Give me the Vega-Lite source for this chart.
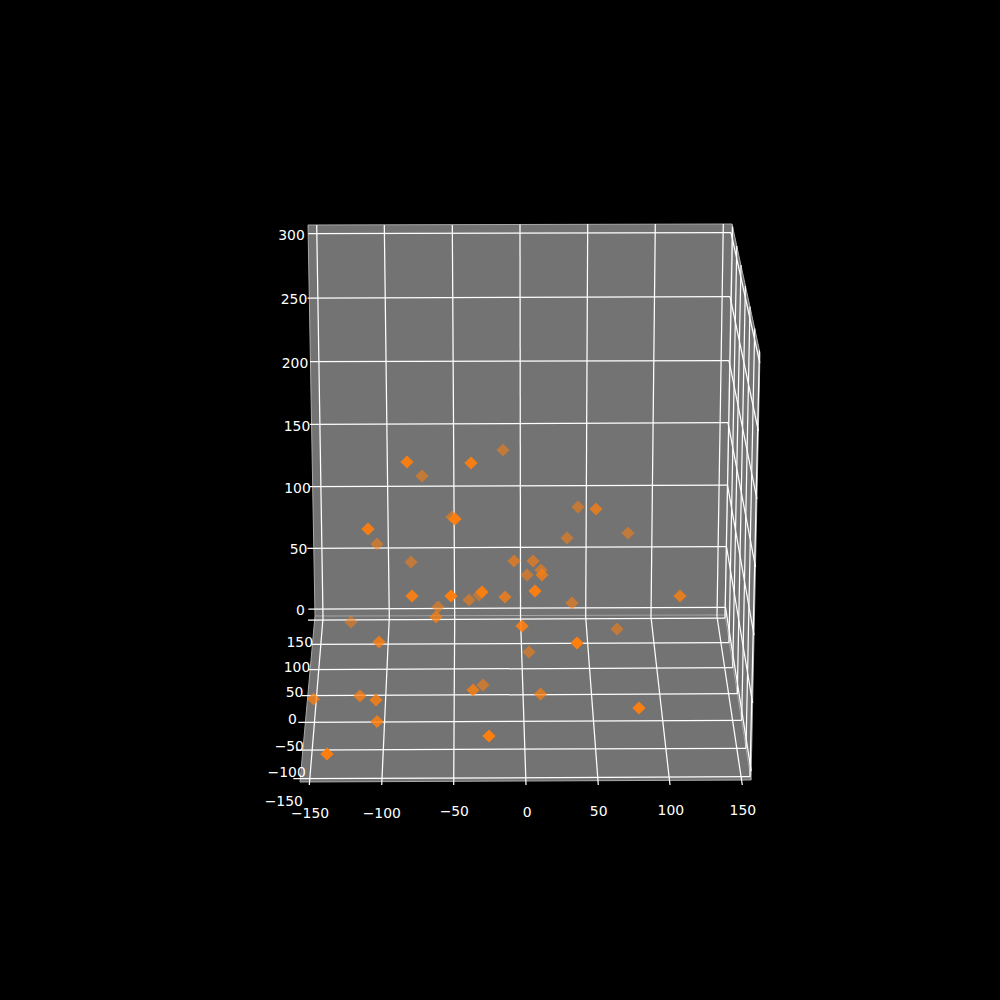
{
  "$schema": "https://vega.github.io/schema/vega-lite/v6.json",
  "width": 1000,
  "height": 1000,
  "padding": 0,
  "autosize": {"type": "none"},
  "background": "#000000",
  "config": {"view": {"stroke": null}},
  "datasets": {
    "panes": [
      {"pane": "back", "sx": 308, "top": 225, "bottom": 225},
      {"pane": "back", "sx": 315, "top": 225, "bottom": 616},
      {"pane": "back", "sx": 725, "top": 224, "bottom": 615},
      {"pane": "back", "sx": 732, "top": 224, "bottom": 224},
      {"pane": "floor", "sx": 300, "top": 782, "bottom": 782},
      {"pane": "floor", "sx": 315, "top": 616, "bottom": 781.9},
      {"pane": "floor", "sx": 725, "top": 615, "bottom": 780.2},
      {"pane": "floor", "sx": 751, "top": 780, "bottom": 780},
      {"pane": "right", "sx": 725, "top": 615, "bottom": 615},
      {"pane": "right", "sx": 732, "top": 224, "bottom": 659.4},
      {"pane": "right", "sx": 751, "top": 311.5, "bottom": 780},
      {"pane": "right", "sx": 760, "top": 353, "bottom": 353}
    ],
    "edges": [
      {"id": "e1", "sx": 308, "sy": 225}, {"id": "e1", "sx": 732, "sy": 224},
      {"id": "e2", "sx": 308, "sy": 225}, {"id": "e2", "sx": 315, "sy": 616},
      {"id": "e3", "sx": 732, "sy": 224}, {"id": "e3", "sx": 725, "sy": 615},
      {"id": "e4", "sx": 315, "sy": 616}, {"id": "e4", "sx": 725, "sy": 615},
      {"id": "e5", "sx": 315, "sy": 616}, {"id": "e5", "sx": 300, "sy": 782},
      {"id": "e6", "sx": 300, "sy": 782}, {"id": "e6", "sx": 751, "sy": 780},
      {"id": "e7", "sx": 725, "sy": 615}, {"id": "e7", "sx": 751, "sy": 780},
      {"id": "e8", "sx": 732, "sy": 224}, {"id": "e8", "sx": 760, "sy": 353},
      {"id": "e9", "sx": 760, "sy": 353}, {"id": "e9", "sx": 751, "sy": 780}
    ],
    "grid": [
      {"id": "bx-150", "sx": 316.7, "sy": 225}, {"id": "bx-150", "sx": 323, "sy": 618},
      {"id": "bx-100", "sx": 384.3, "sy": 225}, {"id": "bx-100", "sx": 389.3, "sy": 618},
      {"id": "bx-50", "sx": 452.3, "sy": 225}, {"id": "bx-50", "sx": 454.7, "sy": 618},
      {"id": "bx0", "sx": 520, "sy": 224.5}, {"id": "bx0", "sx": 520.5, "sy": 617},
      {"id": "bx50", "sx": 587.7, "sy": 224}, {"id": "bx50", "sx": 585.7, "sy": 617},
      {"id": "bx100", "sx": 655.3, "sy": 224}, {"id": "bx100", "sx": 651, "sy": 617},
      {"id": "bx150", "sx": 723.3, "sy": 224}, {"id": "bx150", "sx": 717, "sy": 616.5},
      {"id": "fx-150", "sx": 323, "sy": 618}, {"id": "fx-150", "sx": 309.3, "sy": 785},
      {"id": "fx-100", "sx": 389.3, "sy": 618}, {"id": "fx-100", "sx": 381.7, "sy": 785},
      {"id": "fx-50", "sx": 454.7, "sy": 618}, {"id": "fx-50", "sx": 453.7, "sy": 785},
      {"id": "fx0", "sx": 520.5, "sy": 617}, {"id": "fx0", "sx": 526, "sy": 785},
      {"id": "fx50", "sx": 585.7, "sy": 617}, {"id": "fx50", "sx": 598.3, "sy": 785},
      {"id": "fx100", "sx": 651, "sy": 617}, {"id": "fx100", "sx": 670, "sy": 785},
      {"id": "fx150", "sx": 717, "sy": 616.5}, {"id": "fx150", "sx": 742.3, "sy": 785},
      {"id": "bz300", "sx": 308.3, "sy": 233.5}, {"id": "bz300", "sx": 731, "sy": 232.7},
      {"id": "bz250", "sx": 307.5, "sy": 298}, {"id": "bz250", "sx": 730, "sy": 296.7},
      {"id": "bz200", "sx": 310, "sy": 361.7}, {"id": "bz200", "sx": 729, "sy": 360.7},
      {"id": "bz150", "sx": 310, "sy": 424.3}, {"id": "bz150", "sx": 728, "sy": 422.7},
      {"id": "bz100", "sx": 309.3, "sy": 486.7}, {"id": "bz100", "sx": 727.5, "sy": 485},
      {"id": "bz50", "sx": 307.3, "sy": 548.3}, {"id": "bz50", "sx": 726.5, "sy": 546.5},
      {"id": "bz0", "sx": 308.3, "sy": 609}, {"id": "bz0", "sx": 725.5, "sy": 607.3},
      {"id": "rz300", "sx": 731, "sy": 232.7}, {"id": "rz300", "sx": 759.8, "sy": 363},
      {"id": "rz250", "sx": 730, "sy": 296.7}, {"id": "rz250", "sx": 758.4, "sy": 431},
      {"id": "rz200", "sx": 729, "sy": 360.7}, {"id": "rz200", "sx": 756.9, "sy": 499},
      {"id": "rz150", "sx": 728, "sy": 422.7}, {"id": "rz150", "sx": 755.5, "sy": 567},
      {"id": "rz100", "sx": 727.5, "sy": 485}, {"id": "rz100", "sx": 754, "sy": 635},
      {"id": "rz50", "sx": 726.5, "sy": 546.5}, {"id": "rz50", "sx": 752.6, "sy": 703},
      {"id": "rz0", "sx": 725.5, "sy": 607.3}, {"id": "rz0", "sx": 751.2, "sy": 771},
      {"id": "fy200", "sx": 308, "sy": 620}, {"id": "fy200", "sx": 725, "sy": 618},
      {"id": "fy150", "sx": 311.7, "sy": 644.3}, {"id": "fy150", "sx": 729, "sy": 642.7},
      {"id": "fy100", "sx": 308.3, "sy": 669.7}, {"id": "fy100", "sx": 732.7, "sy": 667.7},
      {"id": "fy50", "sx": 301.7, "sy": 695.7}, {"id": "fy50", "sx": 737.3, "sy": 693.7},
      {"id": "fy0", "sx": 298.3, "sy": 722.3}, {"id": "fy0", "sx": 741.7, "sy": 720.3},
      {"id": "fy-50", "sx": 296, "sy": 750}, {"id": "fy-50", "sx": 746, "sy": 748.3},
      {"id": "fy-100", "sx": 293.3, "sy": 778.7}, {"id": "fy-100", "sx": 750, "sy": 776.7},
      {"id": "ry200", "sx": 725, "sy": 618}, {"id": "ry200", "sx": 732.6, "sy": 226.6},
      {"id": "ry150", "sx": 729, "sy": 642.7}, {"id": "ry150", "sx": 736.8, "sy": 246},
      {"id": "ry100", "sx": 732.7, "sy": 667.7}, {"id": "ry100", "sx": 741, "sy": 265},
      {"id": "ry50", "sx": 737.3, "sy": 693.7}, {"id": "ry50", "sx": 745.4, "sy": 286},
      {"id": "ry0", "sx": 741.7, "sy": 720.3}, {"id": "ry0", "sx": 750, "sy": 306.6},
      {"id": "ry-50", "sx": 746, "sy": 748.3}, {"id": "ry-50", "sx": 754.7, "sy": 328.5},
      {"id": "ry-100", "sx": 750, "sy": 776.7}, {"id": "ry-100", "sx": 759.4, "sy": 350.4}
    ],
    "points": [
      {"sx": 503, "sy": 450, "depth": 0.1},
      {"sx": 422, "sy": 476, "depth": 0.15},
      {"sx": 377, "sy": 544, "depth": 0.15},
      {"sx": 452, "sy": 517, "depth": 0.15},
      {"sx": 411, "sy": 562, "depth": 0.1},
      {"sx": 438, "sy": 607, "depth": 0.15},
      {"sx": 469, "sy": 600, "depth": 0.15},
      {"sx": 479, "sy": 595, "depth": 0.05},
      {"sx": 527, "sy": 575, "depth": 0.15},
      {"sx": 541, "sy": 570, "depth": 0.2},
      {"sx": 533, "sy": 561, "depth": 0.25},
      {"sx": 514, "sy": 561, "depth": 0.3},
      {"sx": 567, "sy": 538, "depth": 0.15},
      {"sx": 578, "sy": 507, "depth": 0.15},
      {"sx": 628, "sy": 533, "depth": 0.1},
      {"sx": 572, "sy": 603, "depth": 0.2},
      {"sx": 351, "sy": 622, "depth": 0.05},
      {"sx": 617, "sy": 629, "depth": 0.15},
      {"sx": 529, "sy": 652, "depth": 0.15},
      {"sx": 483, "sy": 685, "depth": 0.2},
      {"sx": 596, "sy": 509, "depth": 0.5},
      {"sx": 542, "sy": 575, "depth": 0.5},
      {"sx": 505, "sy": 597, "depth": 0.5},
      {"sx": 436, "sy": 617, "depth": 0.5},
      {"sx": 680, "sy": 596, "depth": 0.6},
      {"sx": 379, "sy": 642, "depth": 0.6},
      {"sx": 360, "sy": 696, "depth": 0.55},
      {"sx": 376, "sy": 700, "depth": 0.65},
      {"sx": 313.5, "sy": 699, "depth": 0.5},
      {"sx": 473, "sy": 690, "depth": 0.6},
      {"sx": 540.5, "sy": 694, "depth": 0.45},
      {"sx": 377, "sy": 721.5, "depth": 0.7},
      {"sx": 522, "sy": 626, "depth": 0.8},
      {"sx": 407, "sy": 462, "depth": 0.85},
      {"sx": 471, "sy": 463, "depth": 0.85},
      {"sx": 368, "sy": 529, "depth": 0.85},
      {"sx": 455, "sy": 519, "depth": 0.95},
      {"sx": 412, "sy": 596, "depth": 0.8},
      {"sx": 451, "sy": 596, "depth": 1},
      {"sx": 482, "sy": 592, "depth": 0.85},
      {"sx": 535, "sy": 591, "depth": 0.9},
      {"sx": 577, "sy": 643, "depth": 1},
      {"sx": 327, "sy": 754, "depth": 1},
      {"sx": 489, "sy": 736, "depth": 1},
      {"sx": 639, "sy": 708, "depth": 0.9}
    ],
    "labels": [
      {"label": "300", "sx": 291.5, "sy": 235},
      {"label": "250", "sx": 294, "sy": 299},
      {"label": "200", "sx": 295, "sy": 363},
      {"label": "150", "sx": 297, "sy": 425.5},
      {"label": "100", "sx": 297.5, "sy": 488},
      {"label": "50", "sx": 298.5, "sy": 549},
      {"label": "0", "sx": 300.3, "sy": 610.3},
      {"label": "150", "sx": 299.7, "sy": 641.7},
      {"label": "100", "sx": 297, "sy": 666.7},
      {"label": "50", "sx": 294.5, "sy": 691.7},
      {"label": "0", "sx": 292.3, "sy": 718.7},
      {"label": "−50", "sx": 289.3, "sy": 745.7},
      {"label": "−100", "sx": 286.7, "sy": 772.3},
      {"label": "−150", "sx": 283.8, "sy": 801.3},
      {"label": "−150", "sx": 310, "sy": 812.7},
      {"label": "−100", "sx": 381.8, "sy": 812.7},
      {"label": "−50", "sx": 454.3, "sy": 811.3},
      {"label": "0", "sx": 527.2, "sy": 811.7},
      {"label": "50", "sx": 598.7, "sy": 811.3},
      {"label": "100", "sx": 670.8, "sy": 810},
      {"label": "150", "sx": 742.8, "sy": 810}
    ]
  },
  "layer": [
    {
      "data": {"name": "panes"},
      "mark": {"type": "area", "color": "#737373", "interpolate": "linear", "line": false},
      "encoding": {
        "x": {"field": "sx", "type": "quantitative", "scale": {"domain": [0, 1000]}, "axis": null},
        "y": {"field": "top", "type": "quantitative", "scale": {"domain": [1000, 0]}, "axis": null, "stack": null},
        "y2": {"field": "bottom"},
        "detail": {"field": "pane"}
      }
    },
    {
      "data": {"name": "edges"},
      "mark": {"type": "line", "color": "#a8a8a8", "strokeWidth": 1},
      "encoding": {
        "x": {"field": "sx", "type": "quantitative", "axis": null},
        "y": {"field": "sy", "type": "quantitative", "axis": null},
        "detail": {"field": "id"}
      }
    },
    {
      "data": {"name": "grid"},
      "mark": {"type": "line", "color": "#ffffff", "strokeWidth": 1.25, "opacity": 1},
      "encoding": {
        "x": {"field": "sx", "type": "quantitative", "axis": null},
        "y": {"field": "sy", "type": "quantitative", "axis": null},
        "detail": {"field": "id"}
      }
    },
    {
      "data": {"name": "points"},
      "mark": {"type": "point", "shape": "diamond", "filled": true, "color": "#ff7f0e", "size": 175, "strokeWidth": 0},
      "encoding": {
        "x": {"field": "sx", "type": "quantitative", "axis": null},
        "y": {"field": "sy", "type": "quantitative", "axis": null},
        "opacity": {"field": "depth", "type": "quantitative", "scale": {"domain": [0, 1], "range": [0.5, 1]}, "legend": null}
      }
    },
    {
      "data": {"name": "labels"},
      "mark": {"type": "text", "color": "#ffffff", "font": "DejaVu Sans", "fontSize": 13.9, "align": "center", "baseline": "middle", "dy": 1},
      "encoding": {
        "x": {"field": "sx", "type": "quantitative", "axis": null},
        "y": {"field": "sy", "type": "quantitative", "axis": null},
        "text": {"field": "label"}
      }
    }
  ]
}
